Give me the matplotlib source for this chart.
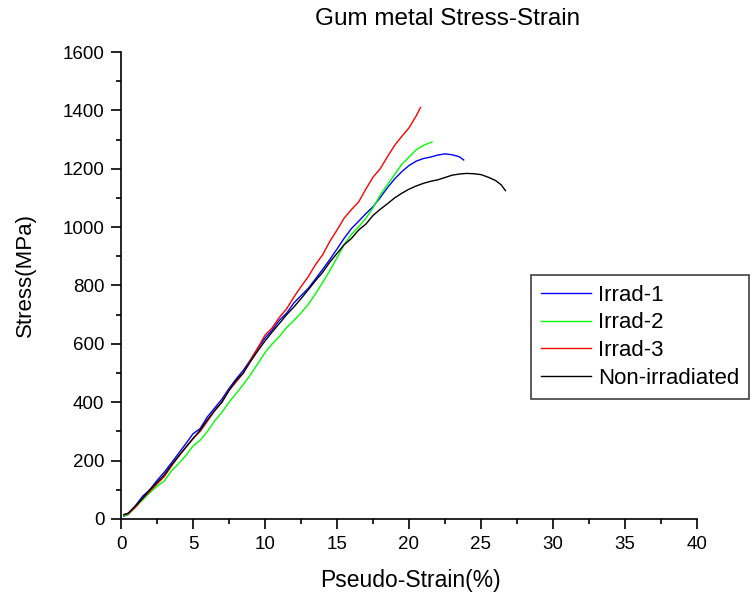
import matplotlib.pyplot as plt
from matplotlib.ticker import MultipleLocator

plt.rcParams['font.family'] = ['Liberation Sans', 'DejaVu Sans']

# Irrad-1 (blue)
x_irrad1 = [0.2, 0.5, 1.0, 1.5, 2.0, 2.5, 3.0, 3.5, 4.0, 4.5, 5.0, 5.5, 6.0, 6.5,
            7.0, 7.5, 8.0, 8.5, 9.0, 9.5, 10.0, 10.5, 11.0, 11.5, 12.0, 12.5, 13.0,
            13.5, 14.0, 14.5, 15.0, 15.5, 16.0, 16.5, 17.0, 17.5, 18.0, 18.5, 19.0,
            19.5, 20.0, 20.5, 21.0, 21.5, 22.0, 22.5, 23.0, 23.5, 23.8]
y_irrad1 = [10, 15, 45, 78, 100, 132, 160, 192, 225, 258, 292, 310, 350, 380,
            410, 447, 480, 510, 546, 585, 620, 648, 681, 705, 740, 765, 790,
            822, 855, 889, 925, 962, 995, 1020, 1046, 1070, 1101, 1135, 1165,
            1190, 1211, 1226, 1235, 1240, 1247, 1251, 1248, 1241, 1230]

# Irrad-2 (green)
x_irrad2 = [0.2, 0.5, 1.0, 1.5, 2.0, 2.5, 3.0, 3.5, 4.0, 4.5, 5.0, 5.5, 6.0, 6.5,
            7.0, 7.5, 8.0, 8.5, 9.0, 9.5, 10.0, 10.5, 11.0, 11.5, 12.0, 12.5, 13.0,
            13.5, 14.0, 14.5, 15.0, 15.5, 16.0, 16.5, 17.0, 17.5, 18.0, 18.5, 19.0,
            19.5, 20.0, 20.5, 21.0, 21.6]
y_irrad2 = [12, 15, 40, 65, 90, 112, 130, 165, 190, 217, 250, 270, 300, 336,
            365, 400, 430, 461, 495, 532, 570, 600, 625, 656, 680, 706, 735,
            771, 810, 851, 895, 940, 975, 1001, 1030, 1066, 1110, 1145, 1180,
            1215, 1240, 1265, 1280, 1292]

# Irrad-3 (red)
x_irrad3 = [0.2, 0.5, 1.0, 1.5, 2.0, 2.5, 3.0, 3.5, 4.0, 4.5, 5.0, 5.5, 6.0, 6.5,
            7.0, 7.5, 8.0, 8.5, 9.0, 9.5, 10.0, 10.5, 11.0, 11.5, 12.0, 12.5, 13.0,
            13.5, 14.0, 14.5, 15.0, 15.5, 16.0, 16.5, 17.0, 17.5, 18.0, 18.5, 19.0,
            19.5, 20.0, 20.5, 20.8]
y_irrad3 = [15, 18, 40, 70, 95, 120, 145, 181, 215, 245, 276, 300, 335, 371,
            400, 441, 470, 500, 545, 586, 630, 655, 691, 720, 760, 796, 830,
            871, 905, 951, 990, 1031, 1060, 1086, 1130, 1171, 1200, 1241, 1280,
            1311, 1340, 1381, 1410]

# Non-irradiated (black)
x_nonirr = [0.2, 0.5, 1.0, 1.5, 2.0, 2.5, 3.0, 3.5, 4.0, 4.5, 5.0, 5.5, 6.0, 6.5,
            7.0, 7.5, 8.0, 8.5, 9.0, 9.5, 10.0, 10.5, 11.0, 11.5, 12.0, 12.5, 13.0,
            13.5, 14.0, 14.5, 15.0, 15.5, 16.0, 16.5, 17.0, 17.5, 18.0, 18.5, 19.0,
            19.5, 20.0, 20.5, 21.0, 21.5, 22.0, 22.5, 23.0, 23.5, 24.0, 24.5, 25.0,
            25.5, 26.0, 26.4, 26.7]
y_nonirr = [15, 20, 45, 71, 100, 125, 151, 185, 215, 246, 275, 305, 340, 371,
            400, 440, 475, 501, 540, 576, 610, 641, 670, 700, 726, 755, 785,
            816, 845, 880, 910, 940, 961, 990, 1010, 1040, 1061, 1080, 1100,
            1116, 1130, 1141, 1150, 1157, 1162, 1170, 1178, 1182, 1184, 1183, 1180,
            1171, 1160, 1145, 1125]

labels = ['Irrad-1', 'Irrad-2', 'Irrad-3', 'Non-irradiated']
colors = ['#0000ff', '#00ff00', '#ff0000', '#000000']

fig = plt.figure(figsize=(7.53, 5.93), dpi=100)
ax = fig.add_axes([0.1607, 0.1248, 0.7649, 0.7875])

series = [(x_irrad1, y_irrad1), (x_irrad2, y_irrad2),
          (x_irrad3, y_irrad3), (x_nonirr, y_nonirr)]
for (xs, ys), lab, c in zip(series, labels, colors):
    ax.plot(xs, ys, color=c, lw=1.0, label=lab)

ax.set_xlim(0, 40)
ax.set_ylim(0, 1600)
ax.xaxis.set_major_locator(MultipleLocator(5))
ax.xaxis.set_minor_locator(MultipleLocator(2.5))
ax.yaxis.set_major_locator(MultipleLocator(200))
ax.yaxis.set_minor_locator(MultipleLocator(100))

for side in ['top', 'right']:
    ax.spines[side].set_visible(False)
for side in ['left', 'bottom']:
    ax.spines[side].set_linewidth(1.2)

ax.tick_params(which='major', direction='out', length=7, width=1.2,
               labelsize=13.5, pad=5)
ax.tick_params(which='minor', direction='out', length=3.5, width=1.2)

# axis labels and title placed in figure coords
fig.text(410 / 753, 1 - 580 / 593, 'Pseudo-Strain(%)', fontsize=16.5,
         ha='center', va='center')
fig.text(25 / 753, 1 - 275 / 593, 'Stress(MPa)', fontsize=16, rotation=90,
         ha='center', va='center')
fig.text(315 / 753, 1 - 19 / 593, 'Gum metal Stress-Strain', fontsize=17.5,
         ha='left', va='center')

leg = ax.legend(loc='upper left', bbox_to_anchor=(0.712, 0.523), borderaxespad=0,
                fontsize=16, handlelength=2.25, handletextpad=0.3,
                labelspacing=0.3, borderpad=0.45, fancybox=False,
                framealpha=1, edgecolor='#404040')
leg.get_frame().set_linewidth(1.2)

fig.savefig('out.png', dpi=100)
